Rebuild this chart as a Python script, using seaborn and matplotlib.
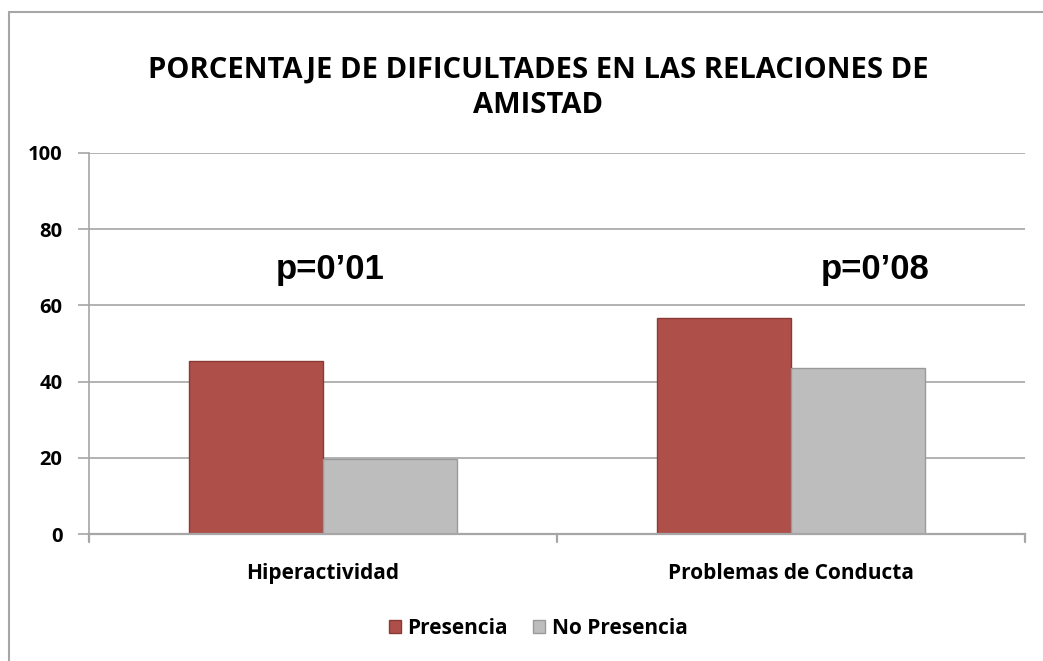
import matplotlib
matplotlib.use("Agg")
import matplotlib.pyplot as plt
import seaborn as sns
import pandas as pd
from matplotlib.lines import Line2D
from matplotlib.patches import Patch

categories = ["Hiperactividad", "Problemas de Conducta"]
series = ["Presencia", "No Presencia"]
presencia = [45.3, 56.8]
no_presencia = [19.8, 43.5]
p_labels = ["p=0\u201901", "p=0\u201908"]
title = "PORCENTAJE DE DIFICULTADES EN LAS RELACIONES DE\nAMISTAD"
yticks = [0, 20, 40, 60, 80, 100]

colors = ["#AF4F49", "#BDBDBD"]

df = pd.DataFrame({
    "cat": categories * 2,
    "serie": [series[0]] * 2 + [series[1]] * 2,
    "val": presencia + no_presencia,
})

sns.set_theme(style="white")
plt.rcParams["font.family"] = ["Open Sans", "DejaVu Sans"]
plt.rcParams["text.color"] = "black"
plt.rcParams["xtick.color"] = "black"
plt.rcParams["ytick.color"] = "black"
plt.rcParams["xtick.labelcolor"] = "black"
plt.rcParams["ytick.labelcolor"] = "black"

fig = plt.figure(figsize=(10.43, 6.61), dpi=100)
W, H = 1043, 661
ax = fig.add_axes([89 / W, 1 - 534 / H, (1025 - 89) / W, (534 - 153) / H])

sns.barplot(data=df, x="cat", y="val", hue="serie", palette=colors,
            width=0.572, gap=0, ax=ax, legend=False, saturation=1,
            edgecolor="none")
for i, bar in enumerate(ax.patches):
    bar.set_edgecolor("#8A3A35" if i < 2 else "#9A9A9A")
    bar.set_linewidth(1.0)

ax.set_xlim(-0.5, 1.5)
ax.set_ylim(0, 100)
ax.set_yticks(yticks)
ax.set_yticklabels([str(t) for t in yticks], fontsize=14.5, fontweight="bold")
ax.yaxis.grid(True, color="#A6A6A6", linewidth=1.2)
ax.set_axisbelow(True)
ax.set_xlabel("")
ax.set_ylabel("")
ax.set_xticks([0, 1])
ax.set_xticklabels(categories, fontsize=15, fontweight="bold")
ax.tick_params(axis="x", length=0, pad=21)
ax.tick_params(axis="y", length=8, width=1.2, color="#A6A6A6", left=True, pad=11)
for t in [-0.5, 0.5, 1.5]:
    ax.plot([t, t], [0, -0.022], transform=ax.get_xaxis_transform(),
            color="#A6A6A6", lw=1.6, clip_on=False)

for s in ["top", "right"]:
    ax.spines[s].set_visible(False)
ax.spines["left"].set_color("#A6A6A6")
ax.spines["left"].set_linewidth(1.2)
ax.spines["bottom"].set_color("#A6A6A6")
ax.spines["bottom"].set_linewidth(1.6)

ax.text(0.015, 69.5, p_labels[0], ha="center", va="center", fontsize=25,
        fontweight="bold", family="Liberation Sans")
ax.text(1.18, 69.5, p_labels[1], ha="center", va="center", fontsize=25,
        fontweight="bold", family="Liberation Sans")

fig.text(538 / W, 1 - 88 / H, title, ha="center", va="center", fontsize=21,
         fontweight="bold", linespacing=1.3)

handles = [Patch(facecolor=colors[0], edgecolor="#8A3A35"),
           Patch(facecolor=colors[1], edgecolor="#9A9A9A")]
fig.legend(handles, series, loc="center", bbox_to_anchor=(538 / W, 1 - 628 / H),
           ncol=2, frameon=False, prop={"weight": "bold", "size": 15},
           handlelength=0.6, handleheight=0.6, handletextpad=0.3, columnspacing=1.2)

fig.add_artist(Line2D([8.5 / W, 8.5 / W], [0, 1 - 11.5 / H], transform=fig.transFigure,
                      color="#A6A6A6", lw=1.5))
fig.add_artist(Line2D([8.5 / W, 1], [1 - 11.5 / H, 1 - 11.5 / H], transform=fig.transFigure,
                      color="#A6A6A6", lw=1.5))

fig.savefig("out.png", dpi=100)
